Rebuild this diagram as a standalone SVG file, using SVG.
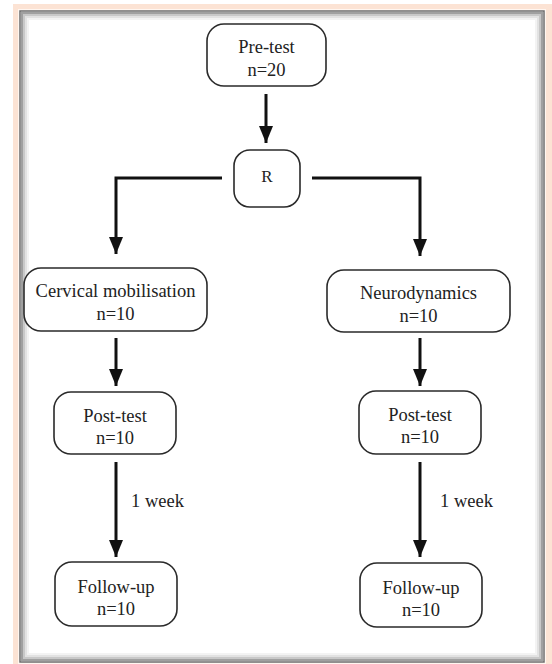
<svg xmlns="http://www.w3.org/2000/svg" width="552" height="664" viewBox="0 0 552 664">
  <style>
    .box { fill: #ffffff; stroke: #2a2a2a; stroke-width: 1.6; }
    .lbl { font-family: "Liberation Serif", "Times New Roman", serif; font-size: 18.5px; fill: #222; text-anchor: middle; }
    .note { font-family: "Liberation Serif", "Times New Roman", serif; font-size: 18.5px; fill: #222; }
    .conn { fill: none; stroke: #111; stroke-width: 3; }
  </style>
  <defs>
    <marker id="arrowR" markerUnits="userSpaceOnUse" markerWidth="18" markerHeight="14" viewBox="0 0 18 14" refX="17" refY="7" orient="auto">
      <path d="M0,0 L17,7 L0,14 Z" fill="#111"/>
    </marker>
  </defs>

  <!-- frame -->
  <rect x="0" y="0" width="552" height="664" fill="#ffffff"/>
  <rect x="13" y="4" width="539" height="660" fill="#fce3d4"/>
  <rect x="18" y="9" width="528" height="655" fill="#fff6f0"/>
  <rect x="20" y="11" width="524" height="651" fill="#ffffff" stroke="#6e6e6e" stroke-width="1.5"/>
  <rect x="22" y="13" width="520" height="647" fill="none" stroke="#a0a0a0" stroke-width="2"/>
  <rect x="24" y="15" width="516" height="643" fill="none" stroke="#c8c8c8" stroke-width="2"/>
  <rect x="26" y="17" width="512" height="639" fill="none" stroke="#e2e2e2" stroke-width="2"/>
  <rect x="28" y="19" width="508" height="635" fill="none" stroke="#f3f3f3" stroke-width="2"/>

  <g id="connectors">
    <path class="conn" d="M266,94 V143" marker-end="url(#arrowR)"/>
    <path class="conn" d="M222,178 H116 V254" marker-end="url(#arrowR)"/>
    <path class="conn" d="M312,178 H420 V256" marker-end="url(#arrowR)"/>
    <path class="conn" d="M116,338 V386" marker-end="url(#arrowR)"/>
    <path class="conn" d="M420,338 V386" marker-end="url(#arrowR)"/>
    <path class="conn" d="M116,462 V557" marker-end="url(#arrowR)"/>
    <path class="conn" d="M420,462 V557" marker-end="url(#arrowR)"/>
    <text class="note" x="131" y="507">1 week</text>
    <text class="note" x="440" y="507">1 week</text>
  </g>

  <g id="pretest">
    <rect class="box" x="207" y="24" width="119" height="62" rx="17"/>
    <text class="lbl" x="266.5" y="53">Pre-test</text>
    <text class="lbl" x="266.5" y="76">n=20</text>
  </g>
  <g id="randomisation">
    <rect class="box" x="234" y="150" width="66" height="57" rx="16"/>
    <text class="lbl" x="267" y="182" style="font-size:17px">R</text>
  </g>
  <g id="cervical">
    <rect class="box" x="24" y="268" width="183" height="63" rx="17"/>
    <text class="lbl" x="115.5" y="297">Cervical mobilisation</text>
    <text class="lbl" x="115.5" y="320">n=10</text>
  </g>
  <g id="neurodynamics">
    <rect class="box" x="327" y="270" width="183" height="62" rx="17"/>
    <text class="lbl" x="418.5" y="299">Neurodynamics</text>
    <text class="lbl" x="418.5" y="322">n=10</text>
  </g>
  <g id="posttest-left">
    <rect class="box" x="54" y="392" width="122" height="62" rx="17"/>
    <text class="lbl" x="115" y="422">Post-test</text>
    <text class="lbl" x="115" y="444">n=10</text>
  </g>
  <g id="posttest-right">
    <rect class="box" x="359" y="391" width="122" height="63" rx="17"/>
    <text class="lbl" x="420" y="421">Post-test</text>
    <text class="lbl" x="420" y="443">n=10</text>
  </g>
  <g id="followup-left">
    <rect class="box" x="55" y="562" width="122" height="64" rx="17"/>
    <text class="lbl" x="116" y="593">Follow-up</text>
    <text class="lbl" x="116" y="615">n=10</text>
  </g>
  <g id="followup-right">
    <rect class="box" x="360" y="563" width="122" height="64" rx="17"/>
    <text class="lbl" x="421" y="594">Follow-up</text>
    <text class="lbl" x="421" y="616">n=10</text>
  </g>
</svg>
